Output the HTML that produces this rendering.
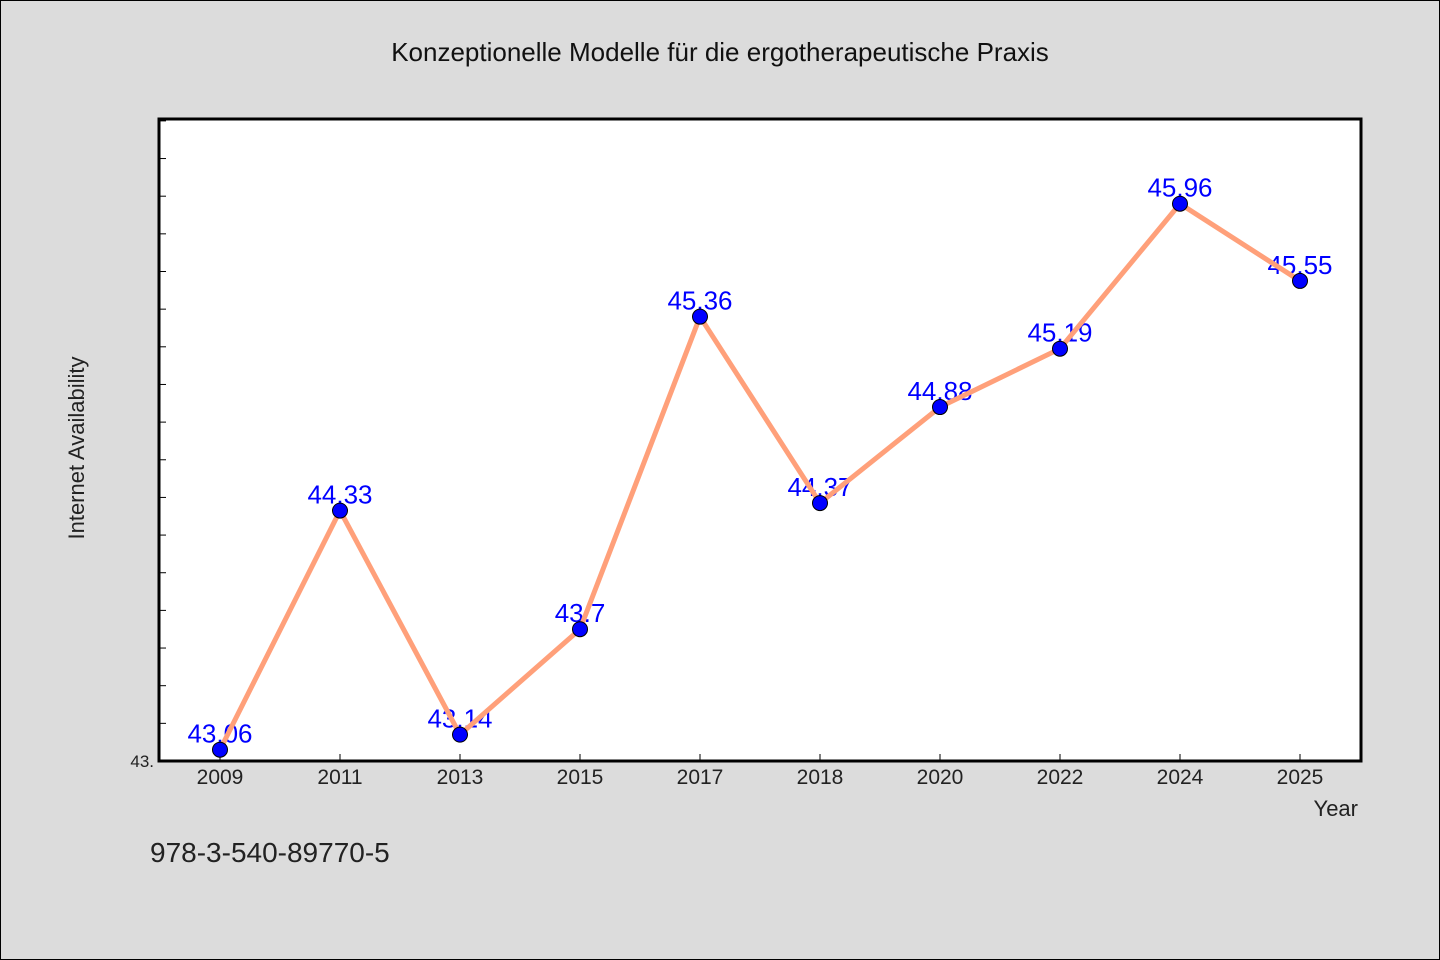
<!DOCTYPE html>
<html><head><meta charset="utf-8"><style>
body{margin:0;background:#dcdcdc;}
svg{display:block;font-family:"WenQuanYi Zen Hei","Liberation Sans",sans-serif;}
</style></head><body>
<svg id="chart" width="1440" height="960">
<rect x="0.5" y="0.5" width="1439" height="959" fill="#dcdcdc" stroke="#000"/>
<text x="720" y="61" text-anchor="middle" font-size="26" fill="#111">Konzeptionelle Modelle für die ergotherapeutische Praxis</text>
<rect x="159" y="119" width="1202" height="642" fill="#fff"/>
<g id="ticks"></g>
<g id="labels"></g>
<g id="series"></g>
<rect x="159" y="119" width="1202" height="642" fill="none" stroke="#000" stroke-width="3"/>
<text x="154" y="767" text-anchor="end" font-size="17" fill="#222">43.</text>
<text x="84" y="448" text-anchor="middle" font-size="22" fill="#222" transform="rotate(-90 84 448)">Internet Availability</text>
<text x="1358" y="816" text-anchor="end" font-size="22" fill="#222">Year</text>
<text x="150" y="862" font-size="28" fill="#222">978-3-540-89770-5</text>
</svg>
<script>
const categories=["2009","2011","2013","2015","2017","2018","2020","2022","2024","2025"];
const values=[43.06,44.33,43.14,43.7,45.36,44.37,44.88,45.19,45.96,45.55];
const valueLabels=["43.06","44.33","43.14","43.7","45.36","44.37","44.88","45.19","45.96","45.55"];
const yMin=43, yMax=46.41, yStep=0.2;
const L=159,R=1361,T=119,B=761,pad=61;
const NS="http://www.w3.org/2000/svg";
function x(i){return L+pad+i*(R-L-2*pad)/(categories.length-1);}
function y(v){return B-(v-yMin)/(yMax-yMin)*(B-T);}
function mk(tag,attrs,parent){const e=document.createElementNS(NS,tag);for(const k in attrs)e.setAttribute(k,attrs[k]);document.getElementById(parent).appendChild(e);return e;}
for(let v=yMin+yStep;v<yMax;v+=yStep){
  const t=mk("line",{x1:L,x2:L+7,y1:y(v),y2:y(v),stroke:"#000","stroke-width":1},"ticks");
  
  
}
categories.forEach((c,i)=>{
  const t=mk("line",{x1:x(i),x2:x(i),y1:B,y2:B-7,stroke:"#000","stroke-width":1},"ticks");
  
  
  const l=mk("text",{x:x(i),y:B+23,"text-anchor":"middle","font-size":"21",fill:"#222"},"ticks");
  l.textContent=c;
  
  
  const vl=mk("text",{x:x(i),y:y(values[i])-7,"text-anchor":"middle","font-size":"26",fill:"#0000ff"},"labels");
  vl.textContent=valueLabels[i];
  
  
});
const line=mk("polyline",{points:values.map((v,i)=>x(i)+","+y(v)).join(" "),fill:"none",stroke:"#ffa07a","stroke-width":5,"stroke-linejoin":"round"},"series");


values.forEach((v,i)=>{
  const p=mk("circle",{cx:x(i),cy:y(v),r:7.5,fill:"#0000ff",stroke:"#000","stroke-width":1},"series");
  
  
});
</script>
</body></html>
